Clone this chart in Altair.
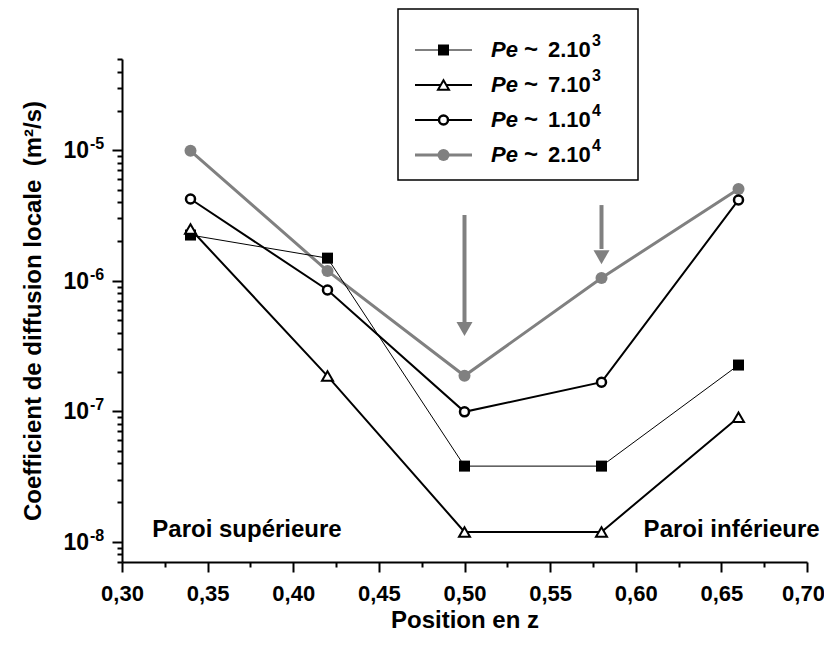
import altair as alt
import pandas as pd

# ---------------- data ----------------
positions = [0.34, 0.42, 0.50, 0.58, 0.66]
legend_mantissa = ["2.10", "7.10", "1.10", "2.10"]
legend_exponent = ["3", "3", "4", "4"]
d_pe_2e3 = [2.24e-6, 1.49e-6, 3.8e-8, 3.8e-8, 2.26e-7]
d_pe_7e3 = [2.49e-6, 1.86e-7, 1.19e-8, 1.19e-8, 9.0e-8]
d_pe_1e4 = [4.23e-6, 8.5e-7, 9.9e-8, 1.67e-7, 4.16e-6]
d_pe_2e4 = [9.9e-6, 1.19e-6, 1.87e-7, 1.05e-6, 5.05e-6]

arrow_x = [0.50, 0.58]
arrow_start = [3.19e-6, 3.8e-6]
arrow_head_base = [4.83e-7, 1.75e-6]
arrow_tip = [3.77e-7, 1.34e-6]

annot_text = ["Paroi supérieure", "Paroi inférieure"]
annot_x = [0.373, 0.656]
annot_y = [1.09e-8, 1.09e-8]

x_ticks = [round(0.30 + 0.025 * i, 3) for i in range(17)]
y_decades = [1e-8, 1e-7, 1e-6, 1e-5]
y_decade_exp = ["-8", "-7", "-6", "-5"]
y_ticks = [m * 10.0 ** e for e in range(-9, -4) for m in range(1, 10)
           if 6.99e-9 <= m * 10.0 ** e <= 5.01e-5]

FONT = "Liberation Sans"
GRAY = "#808080"
W, H = 685, 503

xs = alt.Scale(domain=[0.30, 0.70], nice=False, zero=False)
ys = alt.Scale(type="log", domain=[7e-9, 5e-5], nice=False)

major_x = "abs(datum.value*20 - round(datum.value*20)) < 0.001"
major_y = "abs(log(datum.value)/LN10 - round(log(datum.value)/LN10)) < 0.001"

xaxis = alt.Axis(
    values=x_ticks,
    labelExpr=f"{major_x} ? replace(format(datum.value, '.2f'), '.', ',') : ''",
    tickSize={"condition": {"test": major_x, "value": 10}, "value": 5},
    labelOffset={"condition": {"test": "datum.value > 0.699", "value": -4}, "value": 0},
    labelPadding=11, labelFlush=False, labelOverlap=False,
    title="Position en z", titleFontSize=24,
    titleX=W / 2, titleY=58, titleAlign="center", titleBaseline="middle",
    grid=False,
)
yaxis = alt.Axis(
    values=y_ticks,
    labels=False,
    tickSize={"condition": {"test": major_y, "value": 10}, "value": 5},
    title="Coefficient de diffusion locale\u00a0 (m²/s)", titleFontSize=24,
    titleX=-89, titleY=H / 2, titleAngle=-90, titleAlign="center", titleBaseline="middle",
    grid=False,
)

X = alt.X("z:Q", scale=xs, axis=xaxis)
Y = alt.Y("D:Q", scale=ys, axis=yaxis)

series = [
    dict(vals=d_pe_2e4, color=GRAY, width=3, shape="circle", size=144, fill=GRAY, stroke=GRAY, sw=0),
    dict(vals=d_pe_2e3, color="black", width=1, shape="square", size=121, fill="black", stroke="black", sw=0),
    dict(vals=d_pe_7e3, color="black", width=2, shape="triangle-up", size=121, fill="white", stroke="black", sw=2),
    dict(vals=d_pe_1e4, color="black", width=2, shape="circle", size=81, fill="white", stroke="black", sw=2.5),
]

layers = []
for s in series:
    df = pd.DataFrame({"z": positions, "D": s["vals"]})
    layers.append(alt.Chart(df).mark_line(color=s["color"], strokeWidth=s["width"]).encode(x=X, y=Y))
    if s is series[0]:
        # arrows
        adf = pd.DataFrame({"z": arrow_x, "D": arrow_start, "D2": arrow_head_base, "T": arrow_tip})
        layers.append(alt.Chart(adf).mark_rule(color=GRAY, strokeWidth=4).encode(
            x=X, y=Y, y2=alt.Y2("D2:Q")))
        layers.append(alt.Chart(adf).mark_point(
            shape="M-1,-1.75L1,-1.75L0,0Z", filled=True, size=256, color=GRAY, opacity=1, strokeWidth=0
        ).encode(x=X, y=alt.Y("T:Q", scale=ys, axis=yaxis)))

for s in series:
    df = pd.DataFrame({"z": positions, "D": s["vals"]})
    layers.append(alt.Chart(df).mark_point(
        shape=s["shape"], size=s["size"], filled=True, fill=s["fill"], stroke=s["stroke"],
        strokeWidth=s["sw"], opacity=1
    ).encode(x=X, y=Y))

# annotations
ann = pd.DataFrame({"z": annot_x, "D": annot_y, "t": annot_text})
layers.append(alt.Chart(ann).mark_text(
    font=FONT, fontSize=24, fontWeight="bold", color="black", align="center", baseline="alphabetic"
).encode(x=X, y=Y, text="t:N"))

# y tick labels 10^n
ylab = pd.DataFrame({"D": y_decades, "e": y_decade_exp})
layers.append(alt.Chart(ylab).mark_text(
    font=FONT, fontSize=23, fontWeight="bold", color="black", align="right", baseline="middle", dy=1
).encode(x=alt.value(-33), y=Y, text=alt.value("10")))
layers.append(alt.Chart(ylab).mark_text(
    font=FONT, fontSize=16, fontWeight="bold", color="black", align="left", baseline="middle", dy=-6
).encode(x=alt.value(-32), y=Y, text="e:N"))

# legend
dummy = pd.DataFrame({"a": [0]})
layers.append(alt.Chart(dummy).mark_rect(fill="white", stroke="black", strokeWidth=1.5).encode(
    x=alt.value(276), x2=alt.value(516), y=alt.value(-50), y2=alt.value(121)))
row_y = [-9, 26, 61, 96]
legend_series = [series[1], series[2], series[3], series[0]]
for i, s in enumerate(legend_series):
    ry = row_y[i]
    layers.append(alt.Chart(dummy).mark_rule(color=s["color"], strokeWidth=s["width"]).encode(
        x=alt.value(293), x2=alt.value(350), y=alt.value(ry)))
    layers.append(alt.Chart(dummy).mark_point(
        shape=s["shape"], size=s["size"], filled=True, fill=s["fill"], stroke=s["stroke"],
        strokeWidth=s["sw"], opacity=1).encode(x=alt.value(321.5), y=alt.value(ry)))
    layers.append(alt.Chart(dummy).mark_text(
        font=FONT, fontSize=22, fontWeight="bold", fontStyle="italic", color="black",
        align="left", baseline="middle").encode(x=alt.value(369), y=alt.value(ry), text=alt.value("Pe")))
    layers.append(alt.Chart(dummy).mark_text(
        font=FONT, fontSize=24, fontWeight="bold", color="black",
        align="left", baseline="middle").encode(x=alt.value(402), y=alt.value(ry), text=alt.value("~")))
    layers.append(alt.Chart(dummy).mark_text(
        font=FONT, fontSize=22, fontWeight="bold", color="black",
        align="left", baseline="middle").encode(x=alt.value(426), y=alt.value(ry),
                                               text=alt.value(legend_mantissa[i])))
    layers.append(alt.Chart(dummy).mark_text(
        font=FONT, fontSize=16, fontWeight="bold", color="black",
        align="left", baseline="middle", dy=-9).encode(x=alt.value(470), y=alt.value(ry),
                                                       text=alt.value(legend_exponent[i])))

chart = alt.layer(*layers).properties(
    width=W, height=H,
    autosize=alt.AutoSizeParams(type="none"),
    padding={"left": 114, "top": 51, "right": 17, "bottom": 74},
).configure_view(stroke=None).configure_axis(
    domainColor="black", domainWidth=2, tickColor="black", tickWidth=2,
    labelFont=FONT, labelFontSize=22, labelFontWeight="bold", labelColor="black",
    titleFont=FONT, titleFontSize=22, titleFontWeight="bold", titleColor="black",
)

chart.save("out.html", embed_options={"renderer": "svg", "actions": False})
